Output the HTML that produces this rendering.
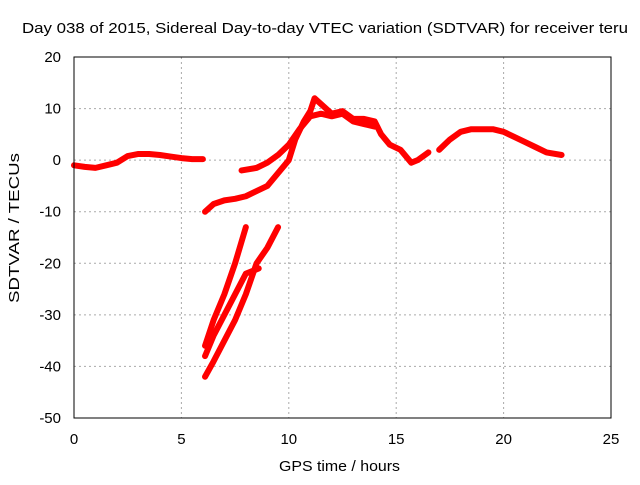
<!DOCTYPE html>
<html><head><meta charset="utf-8"><style>
body{margin:0;background:#fff;}
svg text{font-family:"Liberation Sans",sans-serif;font-size:15px;fill:#000;}
</style></head><body>
<svg id="chart" width="640" height="480">
<rect x="0" y="0" width="640" height="480" fill="#fff"/>
<g id="grid"></g>
<g id="series"></g>
<rect x="74" y="57" width="537" height="361" fill="none" stroke="#000"/>
<g id="ticks"></g>
<text x="22" y="33" textLength="606" lengthAdjust="spacingAndGlyphs">Day 038 of 2015, Sidereal Day-to-day VTEC variation (SDTVAR) for receiver teru</text>
<text x="279" y="471" textLength="121" lengthAdjust="spacingAndGlyphs">GPS time / hours</text>
<text x="0" y="0" textLength="150" lengthAdjust="spacingAndGlyphs" transform="translate(19 303) rotate(-90)">SDTVAR / TECUs</text>
</svg>
<script>
const xTicks=[0,5,10,15,20,25];
const yTicks=[20,10,0,-10,-20,-30,-40,-50];
const s1x=[0,0.5,1,1.5,2,2.5,3,3.5,4,4.5,5,5.5,6];
const s1y=[-1,-1.3,-1.5,-1,-0.5,0.8,1.2,1.2,1,0.7,0.4,0.2,0.2];
const s2x=[6.1,6.5,7,7.5,8,8.5,9,9.5,10,10.3,10.7,11,11.2,11.6,12,12.5,13,13.5,14,14.3,14.7,15.2,15.7,16,16.5];
const s2y=[-10,-8.5,-7.8,-7.5,-7,-6,-5,-2.5,0,4,7.5,9.5,12,10.5,9,9.5,8,8,7.5,5,3,2,-0.5,0,1.5];
const s3x=[7.8,8.5,9,9.5,10,10.5,11,11.5,12,12.5,13,13.5,14];
const s3y=[-2,-1.5,-0.5,1,3,6,8.5,9,8.5,9,7.5,7,6.5];
const s4x=[17,17.5,18,18.5,19,19.5,20,20.5,21,21.5,22,22.7];
const s4y=[2,4,5.5,6,6,6,5.5,4.5,3.5,2.5,1.5,1];
const s5x=[6.1,6.5,7,7.5,8];
const s5y=[-36,-31,-26,-20,-13];
const s6x=[6.1,6.5,7,7.5,8,8.6];
const s6y=[-38,-34,-30,-26,-22,-21];
const s7x=[6.1,6.5,7,7.5,8,8.5,9,9.5];
const s7y=[-42,-39,-35,-31,-26,-20,-17,-13];
const X=v=>74+v*537/25, Y=v=>57+(20-v)*361/70;
const NS="http://www.w3.org/2000/svg";
const grid=document.getElementById('grid'),ticks=document.getElementById('ticks'),ser=document.getElementById('series');
function mk(tag,at,p){const e=document.createElementNS(NS,tag);for(const k in at)e.setAttribute(k,at[k]);p.appendChild(e);return e;}
xTicks.forEach(t=>{
 if(t>0&&t<25){const g=mk('line',{x1:X(t),x2:X(t),y1:57,y2:418,stroke:'#aaa','stroke-dasharray':'2,3'},grid);
 
 }
 const l=mk('text',{x:X(t),y:444,'text-anchor':'middle'},ticks);l.textContent=t;
 
 
});
yTicks.forEach(t=>{
 if(t<20&&t>-50){const g=mk('line',{x1:74,x2:611,y1:Y(t),y2:Y(t),stroke:'#aaa','stroke-dasharray':'2,3'},grid);
 
 }
 const l=mk('text',{x:61,y:Y(t)+5,'text-anchor':'end'},ticks);l.textContent=t;
 
 
});
[[s1x,s1y],[s2x,s2y],[s3x,s3y],[s4x,s4y],[s5x,s5y],[s6x,s6y],[s7x,s7y]].forEach(([xs,ys])=>{
 const p=mk('polyline',{points:xs.map((v,i)=>X(v)+','+Y(ys[i])).join(' '),fill:'none',stroke:'#f00','stroke-width':6,'stroke-linejoin':'round','stroke-linecap':'round'},ser);
 
 
});
</script>
</body></html>
